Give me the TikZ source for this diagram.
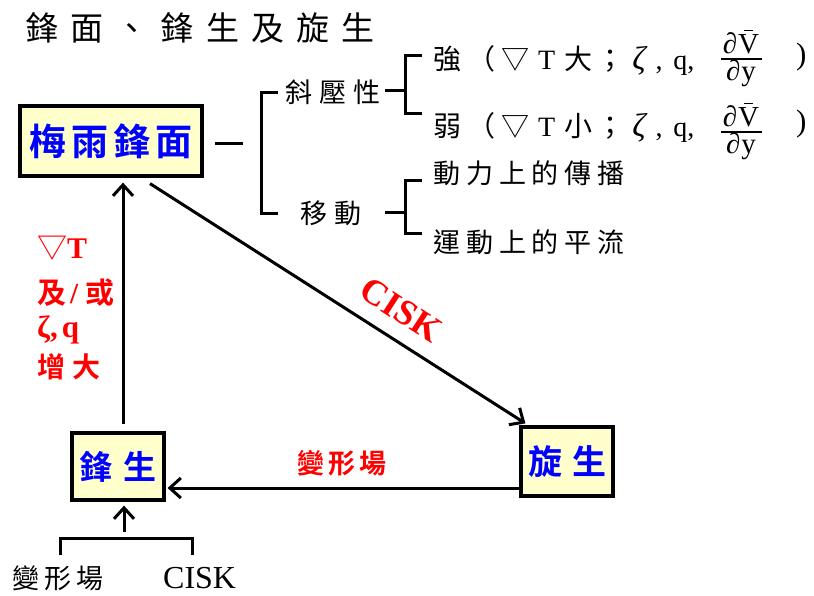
\documentclass[tikz,border=0pt]{standalone}
\usepackage{fontspec}
\usetikzlibrary{arrows.meta}
\setmainfont{Liberation Serif}
\newfontfamily\cjk[BoldFont={* Bold}]{Noto Sans CJK TC}
\definecolor{boxfill}{HTML}{FFFFCC}
\definecolor{myblue}{HTML}{0000FF}
\definecolor{myred}{HTML}{FF0000}
\newcommand\barV{\rlap{\kern5.5pt\raisebox{22pt}{\rule{9pt}{1pt}}}V}
\tikzset{
  fsz/.style={font=\fontsize{#1}{#1}\selectfont},
  boxnode/.style={draw=black, line width=3.2pt, fill=boxfill, text=myblue, inner sep=0pt},
  lbl/.style={inner sep=0pt, anchor=west},
  fr/.style={inner sep=0pt, anchor=base, font=\fontsize{29}{29}\selectfont},
  ln/.style={line width=3pt},
  fracbar/.style={line width=1.1pt},
  arr/.style={line width=3pt, -{Straight Barb[length=11pt,width=20pt,line width=3pt]}},
}
\newcommand\zetarow{\kern8pt{\fontsize{33}{33}\selectfont\textit{ζ}}\kern8pt,\kern11pt q,}
\begin{document}
\begin{tikzpicture}[x=1pt,y=1pt]
\path[use as bounding box, fill=white] (0,0) rectangle (814,-595);
% title
\node[lbl, fsz=33] (title) at (25,-28) {\cjk\addfontfeature{LetterSpace=37}鋒面、鋒生及旋生};
% boxes
\node[boxnode, minimum width=182pt, minimum height=70pt, fsz=37] (mf) at (111,-141) {\cjk\bfseries 梅\kern5pt 雨\kern5pt 鋒\kern5pt 面};
\node[boxnode, minimum width=92pt, minimum height=67pt, fsz=33] (fs) at (118,-466.5) {\cjk\bfseries 鋒\kern11pt 生};
\node[boxnode, minimum width=92pt, minimum height=69pt, fsz=34] (xs) at (567,-461.5) {\cjk\bfseries 旋\kern10pt 生};
% right side texts
\node[lbl, fsz=27] (xy) at (285,-92) {\cjk 斜\kern7pt 壓\kern7pt 性};
\node[lbl, fsz=27] (yd) at (300,-213) {\cjk 移\kern7pt 動};
\node[lbl, fsz=28] (q1) at (433,-60) {{\cjk 強\kern6pt （\kern6pt ▽}\kern9pt T\kern9pt{\cjk 大\kern4pt ；}\zetarow};
\node[lbl, fsz=28] (q2) at (433,-127) {{\cjk 弱\kern6pt （\kern6pt ▽}\kern9pt T\kern9pt{\cjk 小\kern4pt ；}\zetarow};
% fractions
\node[fr] (f1n) at (741,-53) {\textit{∂}\kern1pt\barV};
\node[fr] (f1d) at (741,-80) {\textit{∂}\kern1pt y};
\draw[fracbar] (721,-59) -- (762,-59);
\node[fr] (f2n) at (741,-126) {\textit{∂}\kern1pt\barV};
\node[fr] (f2d) at (741,-153) {\textit{∂}\kern1pt y};
\draw[fracbar] (721,-132) -- (762,-132);
\node[lbl, fsz=31] (p1) at (796,-57) {)};
\node[lbl, fsz=31] (p2) at (796,-124) {)};
\node[lbl, fsz=27] (d1) at (433,-173) {\cjk\addfontfeature{LetterSpace=22}動力上的傳播};
\node[lbl, fsz=27] (d2) at (433,-242) {\cjk\addfontfeature{LetterSpace=22}運動上的平流};
% red labels
\node[lbl, fsz=30, text=myred] (r1) at (37,-248) {{\cjk ▽}\bfseries T};
\node[lbl, fsz=29, text=myred] (r2) at (37,-293) {{\cjk\bfseries 及}\kern4pt{\bfseries /}\kern7pt{\cjk\bfseries 或}};
\node[lbl, fsz=31, text=myred] (r3) at (37,-330) {\bfseries ζ,\kern4pt q};
\node[lbl, fsz=28, text=myred] (r4) at (37,-367) {\cjk\bfseries 增\kern7pt 大};
\node[fsz=36, text=myred, rotate=-33, inner sep=0pt] (cisk) at (401,-310) {\bfseries CISK};
\node[lbl, fsz=27, text=myred] (bx) at (297,-463) {\cjk\bfseries 變\kern4pt 形\kern4pt 場};
% bottom labels
\node[lbl, fsz=27] (b1) at (12,-578) {\cjk 變\kern5pt 形\kern5pt 場};
\node[lbl, fsz=32] (b2) at (163,-578) {CISK};
% dashes and brackets
\draw[ln] ([xshift=11pt,yshift=-2pt]mf.east) -- ([xshift=39pt,yshift=-2pt]mf.east);
\draw[ln] (278,-92) -- (261,-92) -- (261,-213) -- (278,-213);
\draw[ln] (385,-90) -- (405,-90);
\draw[ln] (422,-55) -- (405,-55) -- (405,-113) -- (422,-113);
\draw[ln] (385,-212) -- (405,-212);
\draw[ln] (422,-180) -- (405,-180) -- (405,-233) -- (422,-233);
\coordinate (bl) at (60,-555);
\coordinate (br) at (192,-555);
\coordinate (bm) at (124,-532);
\draw[ln] (bl) -- (60,-538) -- (192,-538) -- (br);
% arrows
\draw[arr] (bm) -- ([xshift=6pt,yshift=-4pt]fs.south);
\draw[arr] ([xshift=5pt,yshift=7pt]fs.north) -- ([xshift=12pt,yshift=-5pt]mf.south);
\draw[arr] ([xshift=39pt,yshift=-6pt]mf.south) -- ([xshift=6pt,yshift=2pt]xs.north west);
\draw[arr] ([yshift=-26.5pt]xs.west) -- ([xshift=2pt,yshift=-21.5pt]fs.east);
\end{tikzpicture}
\end{document}
